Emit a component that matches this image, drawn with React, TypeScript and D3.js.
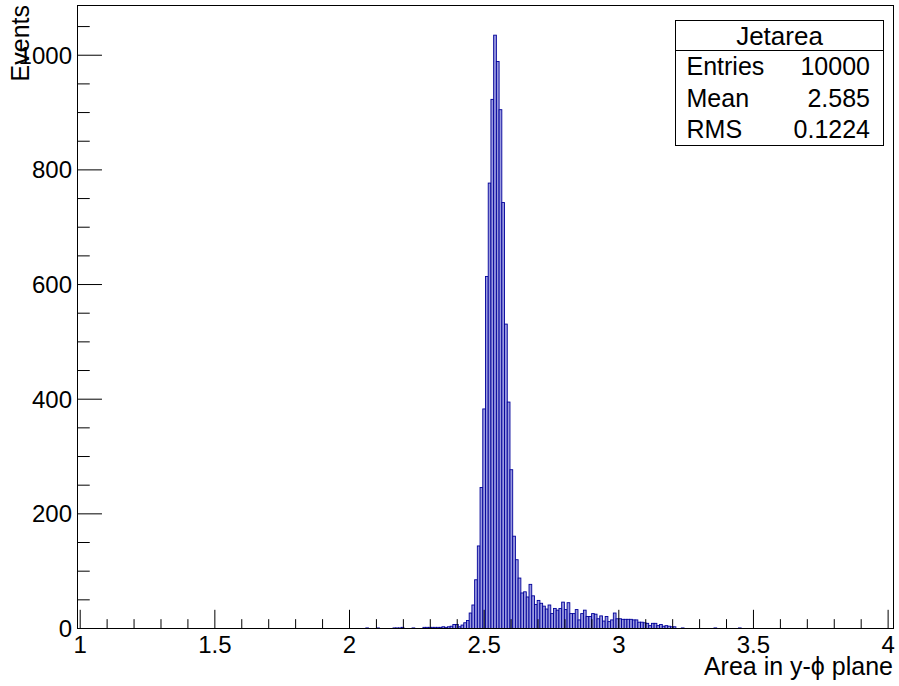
import React from "react";
import * as d3 from "d3";

// Histogram definition (ROOT TH1 "Jetarea")
const xMin = 0.99;
const xMax = 4.02;
const nBins = 300;
const firstBin = 100; // index of first entry in counts
const counts: number[] = [
  // k100-109
  0, 0, 0, 0, 0, 0, 1, 0, 0, 0,
  // k110-119
  1, 0, 0, 0, 0, 0, 1, 1, 1, 2,
  // k120-129
  0, 0, 0, 1, 0, 0, 0, 2, 2, 2,
  // k130-139
  2, 2, 2, 2, 3, 2, 3, 4, 7, 7,
  // k140-149
  3, 6, 10, 14, 27, 41, 85, 144, 246, 383,
  // k150-159
  614, 777, 923, 1035, 989, 905, 743, 531, 395, 277,
  // k160-169
  161, 120, 88, 62, 64, 55, 77, 57, 42, 49,
  // k170-179
  44, 39, 34, 41, 26, 35, 32, 35, 46, 33,
  // k180-189
  45, 26, 26, 33, 15, 26, 32, 21, 21, 26,
  // k190-199
  25, 17, 22, 13, 21, 12, 15, 27, 17, 17,
  // k200-209
  16, 16, 16, 16, 15, 15, 11, 11, 10, 9,
  // k210-219
  5, 9, 9, 5, 7, 4, 5, 4, 3, 3,
  // k220-229
  0, 0, 1, 0, 0, 0, 0, 0, 0, 0,
  // k230-239
  0, 0, 0, 0, 1, 0, 0, 0, 0, 0,
  // k240-245
  0, 0, 0, 1, 0, 0,
];

const xMajorTicks = [1, 1.5, 2, 2.5, 3, 3.5, 4];
const xMajorLabels = ["1", "1.5", "2", "2.5", "3", "3.5", "4"];
const yMajorTicks = [0, 200, 400, 600, 800, 1000];
const yMajorLabels = ["0", "200", "400", "600", "800", "1000"];
const xTitle = "Area in y-\u03D5 plane";
const yTitle = "Events";
const statsTitle = "Jetarea";
const statsLabels = ["Entries", "Mean", "RMS"];
const statsValues = ["10000", "2.585", "0.1224"];

const W = 899;
const H = 686;
const frame = { left: 77.5, right: 893.5, top: 5.5, bottom: 628.5 };
const FONT = "'Liberation Sans', Arial, Helvetica, sans-serif";
const FS = 24;

export default function App() {
  const binW = (xMax - xMin) / nBins;
  const yMax = 1.05 * (d3.max(counts) as number);
  const xs = d3.scaleLinear().domain([xMin, xMax]).range([frame.left, frame.right]);
  const ys = d3.scaleLinear().domain([0, yMax]).range([frame.bottom, frame.top]);

  const bins = counts
    .map((c, i) => ({ k: firstBin + i, c }))
    .filter((b) => b.c > 0);

  const xMinor = d3.range(10, 41).map((v) => v / 10).filter((v) => Math.round(v * 10) % 5 !== 0);
  const yMinor = d3.range(0, yMax, 50).filter((v) => v % 200 !== 0);

  const fh = frame.bottom - frame.top;
  const fw = frame.right - frame.left;
  const xTickMajor = 0.03 * fh;
  const yTickMajor = 0.03 * fw;

  const sb = { left: 675.5, right: 883.5, top: 20.5, bottom: 145.5, div: 50.5 };
  const rowBase = [75, 106.7, 138.3];

  return (
    <svg
      width={W}
      height={H}
      style={{ position: "absolute", left: 0, top: 0, background: "#fff" }}
      fontFamily={FONT}
    >
      <rect x={0} y={0} width={W} height={H} fill="#fff" />
      {/* bars */}
      <g>
        {bins.map((b) => {
          const x0 = xs(xMin + b.k * binW);
          const x1 = xs(xMin + (b.k + 1) * binW);
          const y = ys(b.c);
          return (
            <rect
              key={b.k}
              x={x0}
              y={y}
              width={x1 - x0}
              height={Math.max(ys(0) - y, 0.3)}
              fill="#9a9ae0"
              stroke="#000099"
              strokeWidth={0.9}
            />
          );
        })}
      </g>
      {/* frame */}
      <rect
        x={frame.left}
        y={frame.top}
        width={fw}
        height={fh}
        fill="none"
        stroke="#000"
        strokeWidth={1}
      />
      {/* ticks */}
      <g stroke="#000" strokeWidth={1}>
        {xMajorTicks.map((v) => (
          <line key={"xM" + v} x1={xs(v)} x2={xs(v)} y1={frame.bottom} y2={frame.bottom - xTickMajor} />
        ))}
        {xMinor.map((v) => (
          <line key={"xm" + v} x1={xs(v)} x2={xs(v)} y1={frame.bottom} y2={frame.bottom - xTickMajor / 2} />
        ))}
        {yMajorTicks.map((v) => (
          <line key={"yM" + v} x1={frame.left} x2={frame.left + yTickMajor} y1={ys(v)} y2={ys(v)} />
        ))}
        {yMinor.map((v) => (
          <line key={"ym" + v} x1={frame.left} x2={frame.left + yTickMajor / 2} y1={ys(v)} y2={ys(v)} />
        ))}
      </g>
      {/* x tick labels */}
      <g fontSize={FS} fill="#000" textAnchor="middle">
        {xMajorTicks.map((v, i) => (
          <text key={"xl" + v} x={xs(v)} y={652.5}>
            {xMajorLabels[i]}
          </text>
        ))}
      </g>
      {/* y tick labels */}
      <g fontSize={FS} fill="#000" textAnchor="end">
        {yMajorTicks.map((v, i) => (
          <text key={"yl" + v} x={72} y={ys(v) + 8.6}>
            {yMajorLabels[i]}
          </text>
        ))}
      </g>
      {/* axis titles */}
      <text x={893} y={675} fontSize={25} textAnchor="end" fill="#000">
        {xTitle}
      </text>
      <text
        transform={`translate(28.5,5) rotate(-90)`}
        fontSize={25}
        textAnchor="end"
        fill="#000"
      >
        {yTitle}
      </text>
      {/* stats box */}
      <rect
        x={sb.left}
        y={sb.top}
        width={sb.right - sb.left}
        height={sb.bottom - sb.top}
        fill="#fff"
        stroke="#000"
        strokeWidth={1}
      />
      <line x1={sb.left} x2={sb.right} y1={sb.div} y2={sb.div} stroke="#000" strokeWidth={1} />
      <text x={(sb.left + sb.right) / 2} y={45} fontSize={26} textAnchor="middle" fill="#000">
        {statsTitle}
      </text>
      {statsLabels.map((l, i) => (
        <g key={l}>
          <text x={686.5} y={rowBase[i]} fontSize={25} fill="#000">
            {l}
          </text>
          <text x={870} y={rowBase[i]} fontSize={25} textAnchor="end" fill="#000">
            {statsValues[i]}
          </text>
        </g>
      ))}
    </svg>
  );
}
